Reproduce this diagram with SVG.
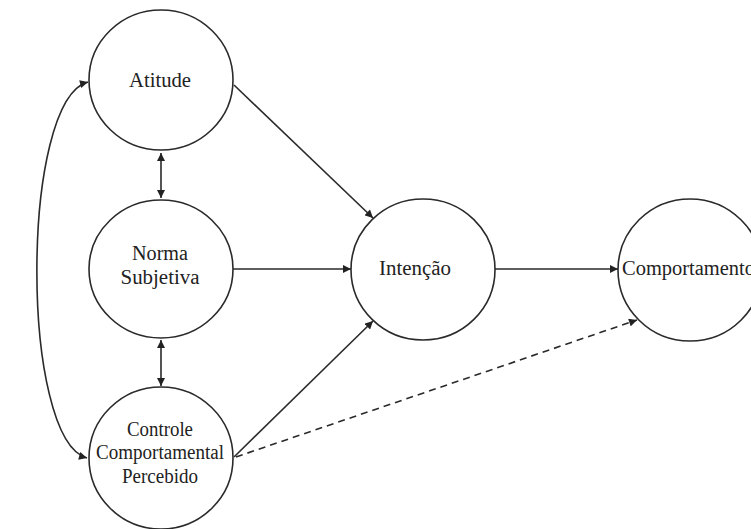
<svg xmlns="http://www.w3.org/2000/svg" width="751" height="529" viewBox="0 0 751 529">
<defs>
<marker id="ah" viewBox="0 0 10 10" refX="10" refY="5" markerWidth="9" markerHeight="8" markerUnits="userSpaceOnUse" orient="auto-start-reverse">
<path d="M0,0 L10,5 L0,10 z" fill="#222"/>
</marker>
<style>
.n{fill:#fff;stroke:#2a2a2a;stroke-width:1.6}
.t{font-family:"Liberation Serif",serif;font-size:20px;fill:#222;text-anchor:middle}
.c{fill:none;stroke:#2a2a2a;stroke-width:1.6}
.d{stroke-dasharray:7,5}
</style>
</defs>
<rect width="751" height="529" fill="#fff"/>
<g id="connectors">
<path class="c" d="M161,153 L161,198" marker-start="url(#ah)" marker-end="url(#ah)"/>
<path class="c" d="M161,340 L161,386" marker-start="url(#ah)" marker-end="url(#ah)"/>
<path class="c" d="M88,82 C20,100 20,440 87,458" marker-start="url(#ah)" marker-end="url(#ah)"/>
<path class="c" d="M234,85 L373,218" marker-end="url(#ah)"/>
<path class="c" d="M233,269 L351,269" marker-end="url(#ah)"/>
<path class="c" d="M234,457 L373,321" marker-end="url(#ah)"/>
<path class="c" d="M495,269 L618,269" marker-end="url(#ah)"/>
<path class="c d" d="M236,457 L637,320" marker-end="url(#ah)"/>
</g>
<g id="atitude">
<ellipse class="n" cx="161" cy="80" rx="72" ry="70"/>
<text class="t" x="160" y="87" textLength="62" lengthAdjust="spacingAndGlyphs">Atitude</text>
</g>
<g id="norma">
<ellipse class="n" cx="161" cy="269" rx="72" ry="69"/>
<text class="t" x="160" y="260" textLength="56" lengthAdjust="spacingAndGlyphs">Norma</text>
<text class="t" x="160" y="284" textLength="79" lengthAdjust="spacingAndGlyphs">Subjetiva</text>
</g>
<g id="controle">
<ellipse class="n" cx="161" cy="458" rx="72" ry="71"/>
<text class="t" x="160" y="436" textLength="66" lengthAdjust="spacingAndGlyphs">Controle</text>
<text class="t" x="160" y="459" textLength="128" lengthAdjust="spacingAndGlyphs">Comportamental</text>
<text class="t" x="160" y="483" textLength="76" lengthAdjust="spacingAndGlyphs">Percebido</text>
</g>
<g id="intencao">
<ellipse class="n" cx="423" cy="269.5" rx="72" ry="70.5"/>
<text class="t" x="415" y="275" textLength="72" lengthAdjust="spacingAndGlyphs">Intenção</text>
</g>
<g id="comportamento">
<ellipse class="n" cx="690" cy="270" rx="72" ry="71"/>
<text class="t" x="622" y="275" style="text-anchor:start" textLength="133" lengthAdjust="spacingAndGlyphs">Comportamento</text>
</g>
</svg>
